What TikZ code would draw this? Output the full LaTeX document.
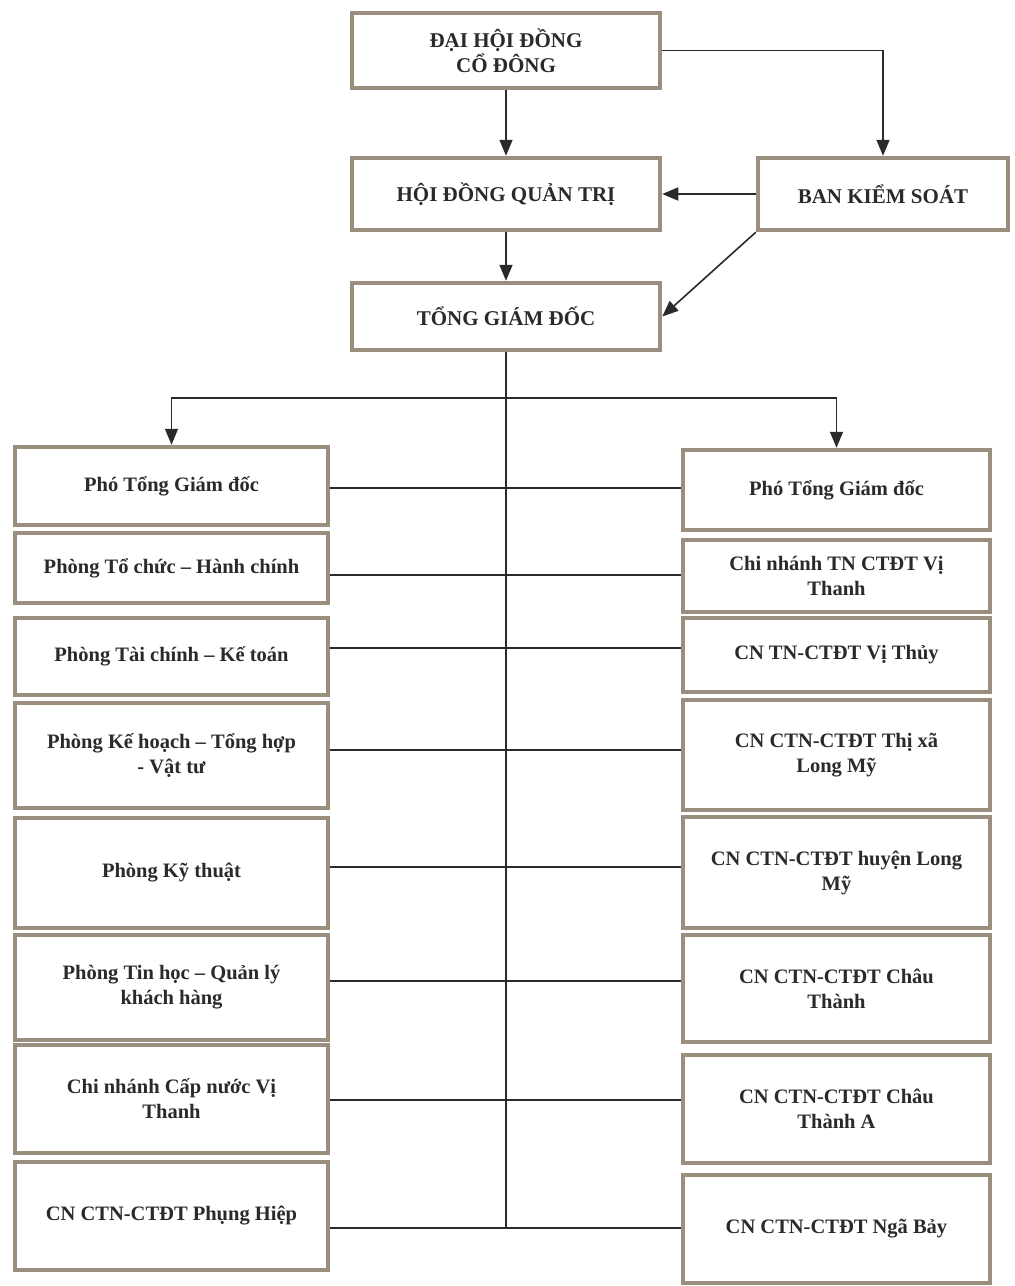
\documentclass[tikz,border=0pt]{standalone}
\usepackage{fontspec}
\setmainfont{Liberation Serif}
\usetikzlibrary{arrows.meta}
\definecolor{bord}{HTML}{9A8E7E}
\definecolor{ink}{HTML}{2A2A2A}
\tikzset{
  box/.style={draw=bord, line width=4.5pt, fill=white, inner sep=2pt, align=center,
    text=ink, font=\bfseries\fontsize{20.5}{25}\selectfont},
  capbox/.style={box, font=\bfseries\fontsize{21}{25}\selectfont},
  conn/.style={draw=ink, line width=1.6pt},
  arr/.style={conn, -{Triangle[width=13pt,length=16pt]}},
}
\newcommand{\bx}[7][box]{\node[#1, minimum width={#5-#3}, minimum height={#6-#4}] (#2) at ({(#3+#5)/2},{(#4+#6)/2}) {#7};}
\begin{document}
\begin{tikzpicture}[x=1pt,y=-1pt]
\fill[white] (0,0) rectangle (1015,1286);
\useasboundingbox (0,0) rectangle (1015,1286);
% top
\bx[capbox]{dhd}{352}{13}{660}{88}{ĐẠI HỘI ĐỒNG\\CỔ ĐÔNG}
\bx[capbox]{hdqt}{352}{158}{660}{230}{HỘI ĐỒNG QUẢN TRỊ}
\bx[capbox]{bks}{758}{158}{1008}{230}{BAN KIỂM SOÁT}
\bx[capbox]{tgd}{352}{283}{660}{350}{TỔNG GIÁM ĐỐC}
% left column
\bx{l1}{15}{447}{328}{525}{Phó Tổng Giám đốc}
\bx{l2}{15}{533}{328}{603}{Phòng Tổ chức – Hành chính}
\bx{l3}{15}{618}{328}{695}{Phòng Tài chính – Kế toán}
\bx{l4}{15}{703}{328}{808}{Phòng Kế hoạch – Tổng hợp\\- Vật tư}
\bx{l5}{15}{818}{328}{928}{Phòng Kỹ thuật}
\bx{l6}{15}{935}{328}{1040}{Phòng Tin học – Quản lý\\khách hàng}
\bx{l7}{15}{1045}{328}{1153}{Chi nhánh Cấp nước Vị\\Thanh}
\bx{l8}{15}{1162}{328}{1270}{CN CTN-CTĐT Phụng Hiệp}
% right column
\bx{r1}{683}{450}{990}{530}{Phó Tổng Giám đốc}
\bx{r2}{683}{540}{990}{612}{Chi nhánh TN CTĐT Vị\\Thanh}
\bx{r3}{683}{618}{990}{692}{CN TN-CTĐT Vị Thủy}
\bx{r4}{683}{700}{990}{810}{CN CTN-CTĐT Thị xã\\Long Mỹ}
\bx{r5}{683}{817}{990}{928}{CN CTN-CTĐT huyện Long\\Mỹ}
\bx{r6}{683}{935}{990}{1042}{CN CTN-CTĐT Châu\\Thành}
\bx{r7}{683}{1055}{990}{1163}{CN CTN-CTĐT Châu\\Thành A}
\bx{r8}{683}{1175}{990}{1283}{CN CTN-CTĐT Ngã Bảy}
% top connectors
\draw[arr] (dhd.south) -- (hdqt.north);
\draw[arr] (dhd.east) -| (bks.north);
\draw[arr] (bks.west) -- (hdqt.east);
\draw[arr] (bks.south west) -- (tgd.east);
\draw[arr] (hdqt.south) -- (tgd.north);
% trunk
\draw[conn] (tgd.south) -- (tgd.south |- 0,1228);
\coordinate (br) at (tgd.south |- 0,398);
\draw[arr] (br) -| (l1.north);
\draw[arr] (br) -| (r1.north);
% horizontal connectors
\draw[conn] (l1.east |- 0,488) -- (r1.west |- 0,488);
\draw[conn] (l2.east |- 0,575) -- (r2.west |- 0,575);
\draw[conn] (l3.east |- 0,648) -- (r3.west |- 0,648);
\draw[conn] (l4.east |- 0,750) -- (r4.west |- 0,750);
\draw[conn] (l5.east |- 0,867) -- (r5.west |- 0,867);
\draw[conn] (l6.east |- 0,981) -- (r6.west |- 0,981);
\draw[conn] (l7.east |- 0,1100) -- (r7.west |- 0,1100);
\draw[conn] (l8.east |- 0,1228) -- (r8.west |- 0,1228);
\end{tikzpicture}
\end{document}
